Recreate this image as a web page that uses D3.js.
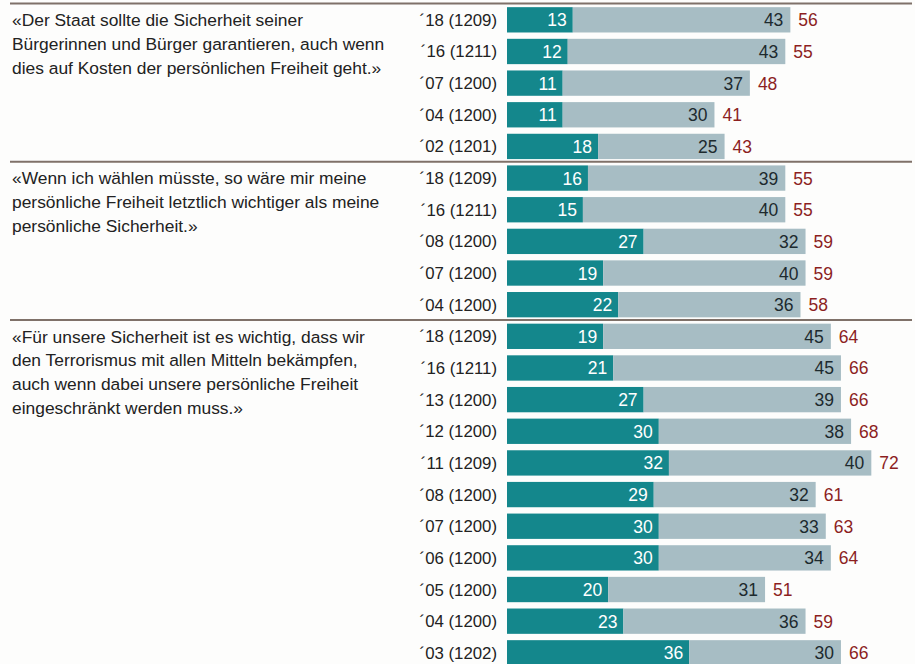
<!DOCTYPE html>
<html><head><meta charset="utf-8">
<script src="https://cdn.jsdelivr.net/npm/d3@7"></script>
<style>
html,body{margin:0;padding:0;background:#fdfdfc;}
svg{display:block;}
text{font-family:"Liberation Sans",Arial,Helvetica,sans-serif;}
</style></head>
<body>
<svg id="chart" width="915" height="664"></svg>
<script>
const questions = [
  ["«Der Staat sollte die Sicherheit seiner","Bürgerinnen und Bürger garantieren, auch wenn","dies auf Kosten der persönlichen Freiheit geht.»"],
  ["«Wenn ich wählen müsste, so wäre mir meine","persönliche Freiheit letztlich wichtiger als meine","persönliche Sicherheit.»"],
  ["«Für unsere Sicherheit ist es wichtig, dass wir","den Terrorismus mit allen Mitteln bekämpfen,","auch wenn dabei unsere persönliche Freiheit","eingeschränkt werden muss.»"]
];
const groupIndex = [0,0,0,0,0, 1,1,1,1,1, 2,2,2,2,2,2,2,2,2,2,2];
const rowLabels = ["´18 (1209)","´16 (1211)","´07 (1200)","´04 (1200)","´02 (1201)",
  "´18 (1209)","´16 (1211)","´08 (1200)","´07 (1200)","´04 (1200)",
  "´18 (1209)","´16 (1211)","´13 (1200)","´12 (1200)","´11 (1209)","´08 (1200)","´07 (1200)","´06 (1200)","´05 (1200)","´04 (1200)","´03 (1202)"];
const strongValues = [13,12,11,11,18, 16,15,27,19,22, 19,21,27,30,32,29,30,30,20,23,36];
const weakValues   = [43,43,37,30,25, 39,40,32,40,36, 45,45,39,38,40,32,33,34,31,36,30];

const svg = d3.select("#chart");
const n = rowLabels.length;
const rowKeys = d3.range(n);
const y = d3.scaleBand().domain(rowKeys).range([4, 4 + 31.65*n]).paddingInner(0.2).paddingOuter(0.1);
const x = d3.scaleLinear().domain([0, 100]).range([507, 507 + 506]);

const cDark = "#14878c", cLight = "#a7bdc4", cRed = "#8c1f1f", cLine = "#7f7169";

// separator lines
const groupStarts = [0,5,10];
groupStarts.forEach(g => {
  const yy = y(g) - y.step()*y.paddingInner()/2 - 0.5;
  svg.append("line").attr("x1",10).attr("x2",912).attr("y1",yy).attr("y2",yy)
    .attr("stroke",cLine).attr("stroke-width",2);
});

// question texts
groupStarts.forEach((g,gi) => {
  const t = svg.append("text").attr("x",12).attr("y", y(g) + 19).attr("font-size",17.4).attr("fill","#222");
  questions[gi].forEach((line,li) => {
    t.append("tspan").attr("x",12).attr("dy", li===0?0:23.8).text(line);
  });
});

const rows = svg.selectAll("g.row").data(rowKeys).join("g").attr("class","row");
rows.append("text").attr("x",497).attr("y",i=>y(i)+y.bandwidth()/2+6)
  .attr("text-anchor","end").attr("font-size",16.8).attr("fill","#222").text(i=>rowLabels[i]);
rows.append("rect").attr("x",x(0)).attr("y",i=>y(i)).attr("height",y.bandwidth())
  .attr("width",i=>x(strongValues[i])-x(0)).attr("fill",cDark);
rows.append("rect").attr("x",i=>x(strongValues[i])).attr("y",i=>y(i)).attr("height",y.bandwidth())
  .attr("width",i=>x(strongValues[i]+weakValues[i])-x(strongValues[i])).attr("fill",cLight);
rows.append("text").attr("x",i=>x(strongValues[i])-6).attr("y",i=>y(i)+y.bandwidth()/2+6.5)
  .attr("text-anchor","end").attr("font-size",17.5).attr("fill","#fff").text(i=>strongValues[i]);
rows.append("text").attr("x",i=>x(strongValues[i]+weakValues[i])-7).attr("y",i=>y(i)+y.bandwidth()/2+6.5)
  .attr("text-anchor","end").attr("font-size",17.5).attr("fill","#1d2a2e").text(i=>weakValues[i]);
rows.append("text").attr("x",i=>x(strongValues[i]+weakValues[i])+8).attr("y",i=>y(i)+y.bandwidth()/2+6.5)
  .attr("font-size",17.5).attr("fill",cRed).text(i=>strongValues[i]+weakValues[i]);
</script>
</body></html>
